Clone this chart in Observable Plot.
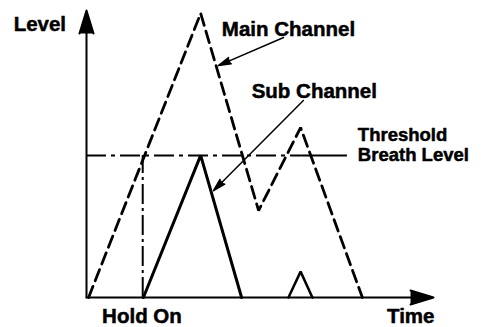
<!DOCTYPE html>
<html>
<head>
<meta charset="utf-8">
<script src="https://cdn.jsdelivr.net/npm/d3@7"></script>
<script src="https://cdn.jsdelivr.net/npm/@observablehq/plot@0.6"></script>
<style>
  html, body { margin: 0; padding: 0; background: #fff; }
  svg { overflow: visible; }
</style>
</head>
<body>
<div id="chart"></div>
<script>
// Conceptual units: time 0..100 along the axis, level 0..101 (threshold = 50)
const mainTime   = [0.6, 32.9, 49.6, 61.7, 79.5];
const mainLevel  = [0, 100, 30.6, 59.8, 0];
const subTime    = [16.4, 32.9, 44.7];
const subLevel   = [0, 50, 0];
const blipTime   = [58.2, 61.7, 65.1];
const blipLevel  = [0, 9.1, 0];
const threshold  = 50;
const thresholdDashedEnd = 62;
const thresholdEnd = 75.2;
const holdOnTime = 16.2;
const axisTimeMax = 100;
const axisLevelMax = 101;

const labelText  = ["Level", "Main Channel", "Sub Channel", "Hold On", "Time"];
const labelTime  = [-21.0, 39.0, 47.6, 4.5, 86.6];
const labelLevel = [96.2, 94.4, 72.6, -6.6, -6.6];

const thresholdLabel = ["Threshold\nBreath Level"];
const thresholdLabelTime = [78.2];
const thresholdLabelLevel = [53.8];

const pointerFromTime  = [56.8, 62.5];
const pointerFromLevel = [91.5, 69.3];
const pointerToTime    = [38.0, 36.6];
const pointerToLevel   = [81.6, 37.6];

const zipXY = (xs, ys) => xs.map((t, i) => ({t, v: ys[i]}));
const mainData = zipXY(mainTime, mainLevel);
const subData = zipXY(subTime, subLevel);
const blipData = zipXY(blipTime, blipLevel);
const labels = labelText.map((text, i) => ({text, t: labelTime[i], v: labelLevel[i]}));
const thLabels = thresholdLabel.map((text, i) => ({text, t: thresholdLabelTime[i], v: thresholdLabelLevel[i]}));
const pointers = pointerFromTime.map((x1, i) => ({x1, y1: pointerFromLevel[i], x2: pointerToTime[i], y2: pointerToLevel[i]}));
const axes = [
  {x1: 0, y1: 0, x2: 0, y2: axisLevelMax},
  {x1: 0, y1: 0, x2: axisTimeMax, y2: 0}
];

const font = "'Liberation Sans', Arial, Helvetica, sans-serif";
const textStyle = {x: "t", y: "v", text: "text", textAnchor: "start", fontWeight: "bold", fontFamily: font, fill: "#000", stroke: "#000", strokeWidth: 0.5};

const chart = Plot.plot({
  width: 489,
  height: 327,
  marginLeft: 86,
  marginRight: 56,
  marginTop: 10,
  marginBottom: 30,
  x: {domain: [0, axisTimeMax], axis: null},
  y: {domain: [0, axisLevelMax], axis: null},
  style: {background: "#fff", color: "#000", overflow: "visible"},
  marks: [
    Plot.ruleY([threshold], {x1: 0, x2: thresholdDashedEnd, stroke: "#000", strokeWidth: 2, strokeDasharray: "20,5,4,5"}),
    Plot.ruleY([threshold], {x1: thresholdDashedEnd, x2: thresholdEnd, stroke: "#000", strokeWidth: 2}),
    Plot.ruleX([holdOnTime], {y1: 0, y2: threshold, stroke: "#000", strokeWidth: 2, strokeDasharray: "20,4,3,4"}),
    Plot.line(mainData, {x: "t", y: "v", stroke: "#000", strokeWidth: 2.8, strokeDasharray: "12,6", strokeLinejoin: "miter"}),
    Plot.line(subData, {x: "t", y: "v", stroke: "#000", strokeWidth: 3, strokeLinejoin: "miter"}),
    Plot.line(blipData, {x: "t", y: "v", stroke: "#000", strokeWidth: 2.5, strokeLinejoin: "miter"}),
    Plot.arrow(axes, {x1: "x1", y1: "y1", x2: "x2", y2: "y2", stroke: "#000", fill: "#000", strokeWidth: 2, headLength: 18, headAngle: 34, strokeLinejoin: "miter"}),
    Plot.arrow(pointers, {x1: "x1", y1: "y1", x2: "x2", y2: "y2", stroke: "#000", fill: "#000", strokeWidth: 1.5, headLength: 13, headAngle: 30, strokeLinejoin: "miter"}),
    Plot.text(labels, {...textStyle, fontSize: 20.5}),
    Plot.text(thLabels, {...textStyle, fontSize: 18.5, lineHeight: 1.1, letterSpacing: "0.3px"})
  ]
});
document.getElementById("chart").appendChild(chart);
</script>
</body>
</html>
